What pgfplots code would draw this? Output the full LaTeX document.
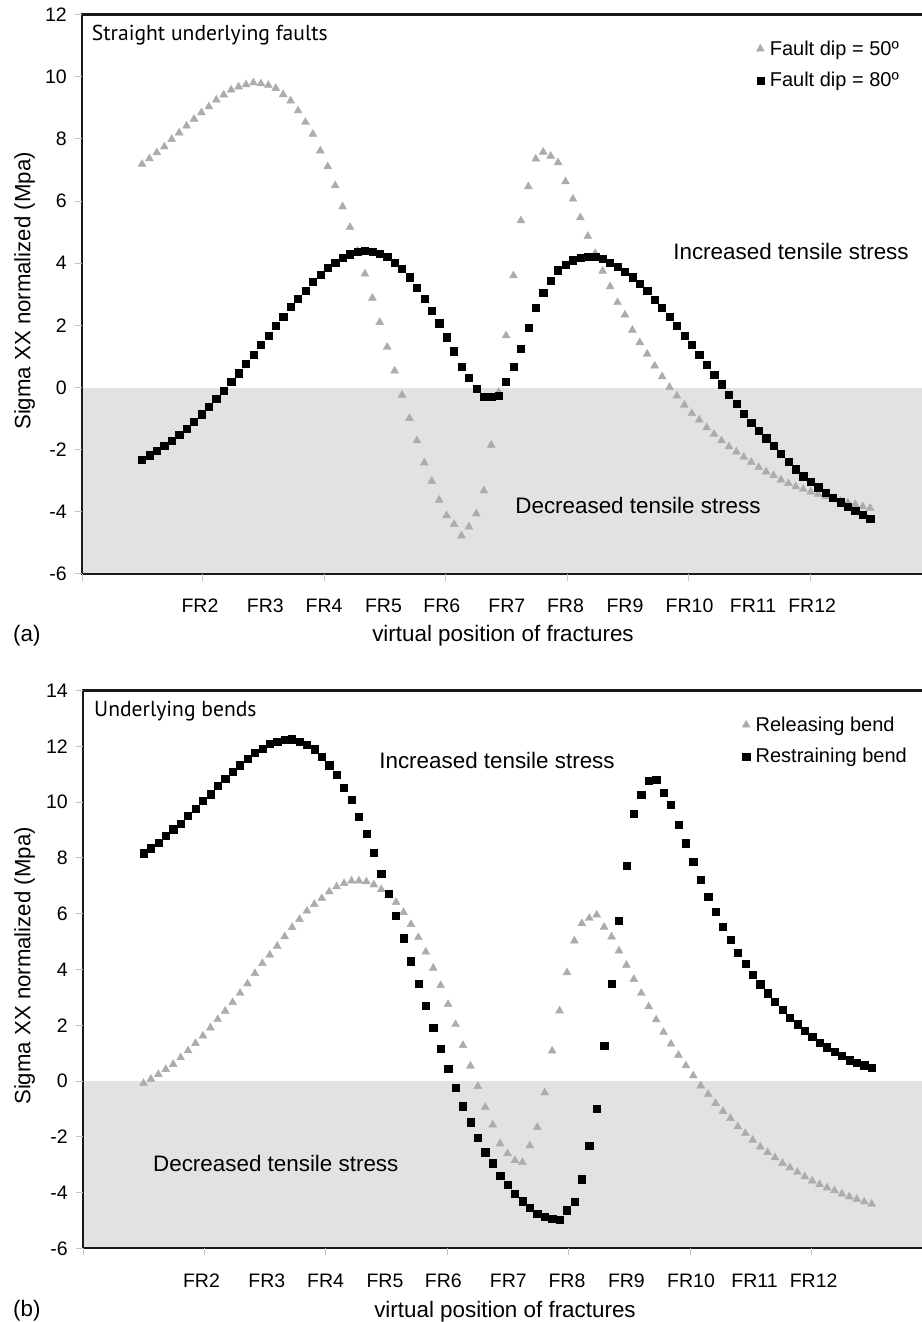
\documentclass[border=0pt]{standalone}
\usepackage{fontspec}
\setmainfont{Liberation Sans}
\newfontfamily\titlefont{PT Sans}
\usepackage{pgfplots}
\pgfplotsset{compat=1.18}
\usepackage{pgfplotstable}
\definecolor{bandgray}{RGB}{226,226,226}
\definecolor{tri}{RGB}{172,172,172}
\definecolor{tickgray}{RGB}{195,195,195}
\tikzset{axframe/.style={line width=2.4pt, black!90, line cap=rect}}

\pgfplotstableread{
i tri sq
0 7.19 -2.33
1 7.37 -2.18
2 7.56 -2.04
3 7.75 -1.88
4 7.99 -1.71
5 8.20 -1.53
6 8.42 -1.33
7 8.64 -1.09
8 8.85 -0.86
9 9.04 -0.61
10 9.26 -0.37
11 9.42 -0.10
12 9.58 0.19
13 9.68 0.46
14 9.75 0.77
15 9.81 1.07
16 9.78 1.37
17 9.73 1.67
18 9.63 1.98
19 9.43 2.29
20 9.23 2.60
21 8.91 2.87
22 8.54 3.12
23 8.16 3.41
24 7.62 3.64
25 7.11 3.86
26 6.50 4.03
27 5.82 4.19
28 5.16 4.29
29 4.40 4.36
30 3.66 4.41
31 2.88 4.38
32 2.10 4.31
33 1.30 4.21
34 0.54 4.03
35 -0.24 3.83
36 -0.99 3.55
37 -1.71 3.22
38 -2.42 2.86
39 -3.01 2.48
40 -3.62 2.07
41 -4.12 1.62
42 -4.40 1.17
43 -4.77 0.67
44 -4.48 0.31
45 -4.06 -0.03
46 -3.32 -0.29
47 -1.85 -0.29
48 -0.15 -0.25
49 1.67 0.18
50 3.60 0.67
51 5.37 1.25
52 6.47 1.93
53 7.36 2.58
54 7.58 3.05
55 7.45 3.44
56 7.24 3.78
57 6.63 3.95
58 6.07 4.10
59 5.47 4.18
60 4.87 4.21
61 4.32 4.21
62 3.75 4.14
63 3.25 4.02
64 2.74 3.89
65 2.34 3.73
66 1.85 3.55
67 1.45 3.33
68 1.08 3.11
69 0.70 2.84
70 0.35 2.58
71 0.01 2.29
72 -0.27 1.98
73 -0.56 1.67
74 -0.83 1.37
75 -1.04 1.05
76 -1.29 0.73
77 -1.50 0.41
78 -1.71 0.11
79 -1.90 -0.22
80 -2.07 -0.53
81 -2.24 -0.83
82 -2.40 -1.12
83 -2.57 -1.40
84 -2.71 -1.63
85 -2.83 -1.88
86 -2.97 -2.14
87 -3.08 -2.38
88 -3.19 -2.63
89 -3.27 -2.85
90 -3.36 -3.03
91 -3.43 -3.21
92 -3.51 -3.38
93 -3.59 -3.54
94 -3.65 -3.69
95 -3.70 -3.83
96 -3.76 -3.97
97 -3.83 -4.08
98 -3.88 -4.21
}\dataA

\pgfplotstableread{
i tri sq
0 -0.08 8.17
1 0.07 8.35
2 0.24 8.56
3 0.42 8.80
4 0.60 9.03
5 0.84 9.24
6 1.09 9.52
7 1.35 9.78
8 1.62 10.05
9 1.91 10.29
10 2.21 10.58
11 2.51 10.84
12 2.82 11.09
13 3.15 11.33
14 3.49 11.57
15 3.86 11.79
16 4.22 11.93
17 4.52 12.09
18 4.84 12.17
19 5.18 12.23
20 5.51 12.26
21 5.80 12.17
22 6.10 12.05
23 6.34 11.90
24 6.55 11.63
25 6.79 11.33
26 6.97 10.98
27 7.09 10.53
28 7.18 10.08
29 7.18 9.48
30 7.15 8.86
31 7.04 8.18
32 6.87 7.45
33 6.66 6.72
34 6.41 5.92
35 6.05 5.12
36 5.62 4.30
37 5.15 3.50
38 4.63 2.70
39 4.05 1.92
40 3.43 1.17
41 2.75 0.43
42 2.03 -0.24
43 1.28 -0.90
44 0.54 -1.48
45 -0.19 -2.02
46 -0.94 -2.55
47 -1.57 -2.95
48 -2.25 -3.40
49 -2.60 -3.72
50 -2.85 -4.03
51 -2.92 -4.31
52 -2.32 -4.53
53 -1.66 -4.76
54 -0.42 -4.88
55 1.08 -4.94
56 2.52 -4.96
57 3.89 -4.63
58 5.03 -4.33
59 5.65 -3.52
60 5.84 -2.31
61 5.96 -0.98
62 5.52 1.26
63 5.17 3.50
64 4.67 5.75
65 4.16 7.72
66 3.65 9.60
67 3.15 10.26
68 2.67 10.78
69 2.20 10.80
70 1.75 10.34
71 1.33 9.90
72 0.93 9.19
73 0.55 8.53
74 0.19 7.87
75 -0.17 7.23
76 -0.48 6.61
77 -0.80 6.06
78 -1.08 5.53
79 -1.34 5.06
80 -1.64 4.60
81 -1.88 4.20
82 -2.12 3.81
83 -2.36 3.47
84 -2.56 3.15
85 -2.75 2.85
86 -2.95 2.55
87 -3.11 2.28
88 -3.27 2.04
89 -3.43 1.80
90 -3.58 1.59
91 -3.71 1.37
92 -3.83 1.21
93 -3.93 1.05
94 -4.05 0.90
95 -4.15 0.75
96 -4.24 0.66
97 -4.33 0.57
98 -4.41 0.49
}\dataB

\pgfplotsset{
  onemark/.style={legend image code/.code={\draw[##1] plot coordinates {(0pt,0pt)};}},
  panel/.style={
    scale only axis, anchor=south west,
    axis on top, clip=false,
    axis x line*=bottom, axis y line*=left,
    axis line style={draw=none, -},
    ymin=-6,
    xtick={7.8,16.6,24.5,32.5,40.35,49.1,57.0,65.0,73.7,82.25,90.2},
    xticklabels={FR2,FR3,FR4,FR5,FR6,FR7,FR8,FR9,FR10,FR11,FR12},
    xtick style={draw=none},
    extra x tick labels={},
    extra x tick style={xtick style={draw=tickgray, line width=1pt}},
    ytick style={draw=tickgray, line width=1pt},
    major tick length=7pt, tick align=outside,
    xticklabel style={font=\fontsize{19.5}{20}\selectfont, anchor=base, inner sep=0pt, yshift=-32pt},
    xticklabel shift=0pt,
    yticklabel style={font=\fontsize{19.5}{20}\selectfont, anchor=east, inner sep=0pt},
    yticklabel shift=8pt,
    legend style={draw=none, fill=none, inner sep=0pt, anchor=north west,
      font=\fontsize{20}{24}\selectfont, row sep=11.5pt, column sep=3.5pt},
    legend cell align=left,
  },
}

\begin{document}
\begin{tikzpicture}

% ---------- panel (a)
\begin{axis}[panel,
  at={(82pt,748pt)}, width=848pt, height=559.3pt,
  xmin=-8.075, xmax=106.06, ymax=12,
  ytick={-6,-4,-2,0,2,4,6,8,10,12},
  yticklabels={-6,-4,-2,0,2,4,6,8,10,12},
  extra x ticks={-8.075,8.2,24.55,40.9,57.25,73.6,89.95},
  legend style={at={(axis description cs:0.795,0.957)}},
]
\fill[bandgray] (axis cs:-8.075,-6) rectangle (axis cs:106.06,0);
\addplot[only marks, mark=triangle*, mark size=4.6pt, color=tri, onemark]
  table[x=i, y=tri] {\dataA};
\addlegendentry{Fault dip = 50º}
\addplot[only marks, mark=square*, mark size=3.6pt, color=black, onemark]
  table[x=i, y=sq] {\dataA};
\addlegendentry{Fault dip = 80º}
\draw[axframe] (rel axis cs:1,1) -- (rel axis cs:0,1) -- (rel axis cs:0,0) -- (rel axis cs:1,0);
\end{axis}

% ---------- panel (b)
\begin{axis}[panel,
  at={(83pt,73.7pt)}, width=847pt, height=557.6pt,
  xmin=-8.14, xmax=105.86, ymax=14,
  ytick={-6,-4,-2,0,2,4,6,8,10,12,14},
  yticklabels={-6,-4,-2,0,2,4,6,8,10,12,14},
  extra x ticks={-8.14,8.2,24.55,40.9,57.25,73.6,89.95},
  legend style={at={(axis description cs:0.778,0.957)}},
]
\fill[bandgray] (axis cs:-8.14,-6) rectangle (axis cs:105.86,0);
\addplot[only marks, mark=triangle*, mark size=4.6pt, color=tri, onemark]
  table[x=i, y=tri] {\dataB};
\addlegendentry{Releasing bend}
\addplot[only marks, mark=square*, mark size=3.6pt, color=black, onemark]
  table[x=i, y=sq] {\dataB};
\addlegendentry{Restraining bend}
\draw[axframe] (rel axis cs:1,1) -- (rel axis cs:0,1) -- (rel axis cs:0,0) -- (rel axis cs:1,0);
\end{axis}

% ---------- texts
\node[anchor=base west, inner sep=0pt] at (91.7pt,1281.3pt) {\titlefont\fontsize{21.6}{24}\selectfont Straight underlying faults};
\node[anchor=base, inner sep=0pt] at (791pt,1062pt) {\fontsize{22.4}{24}\selectfont Increased tensile stress};
\node[anchor=base, inner sep=0pt] at (638pt,808.7pt) {\fontsize{22.4}{24}\selectfont Decreased tensile stress};
\node[anchor=base, inner sep=0pt] at (503pt,680pt) {\fontsize{22.4}{24}\selectfont virtual position of fractures};
\node[anchor=base west, inner sep=0pt] at (13pt,680pt) {\fontsize{22.4}{24}\selectfont (a)};
\node[anchor=base, inner sep=0pt, rotate=90] at (30.5pt,1031pt) {\fontsize{22.2}{24}\selectfont Sigma XX normalized (Mpa)};

\node[anchor=base west, inner sep=0pt] at (94pt,605.3pt) {\titlefont\fontsize{21.6}{24}\selectfont Underlying bends};
\node[anchor=base, inner sep=0pt] at (497pt,553.7pt) {\fontsize{22.4}{24}\selectfont Increased tensile stress};
\node[anchor=base, inner sep=0pt] at (275.8pt,150.3pt) {\fontsize{22.4}{24}\selectfont Decreased tensile stress};
\node[anchor=base, inner sep=0pt] at (505pt,4.5pt) {\fontsize{22.4}{24}\selectfont virtual position of fractures};
\node[anchor=base west, inner sep=0pt] at (13pt,5.5pt) {\fontsize{22.4}{24}\selectfont (b)};
\node[anchor=base, inner sep=0pt, rotate=90] at (30.5pt,356pt) {\fontsize{22.2}{24}\selectfont Sigma XX normalized (Mpa)};

\pgfresetboundingbox
\path[use as bounding box] (0pt,0pt) rectangle (921pt,1322pt);
\end{tikzpicture}
\end{document}
